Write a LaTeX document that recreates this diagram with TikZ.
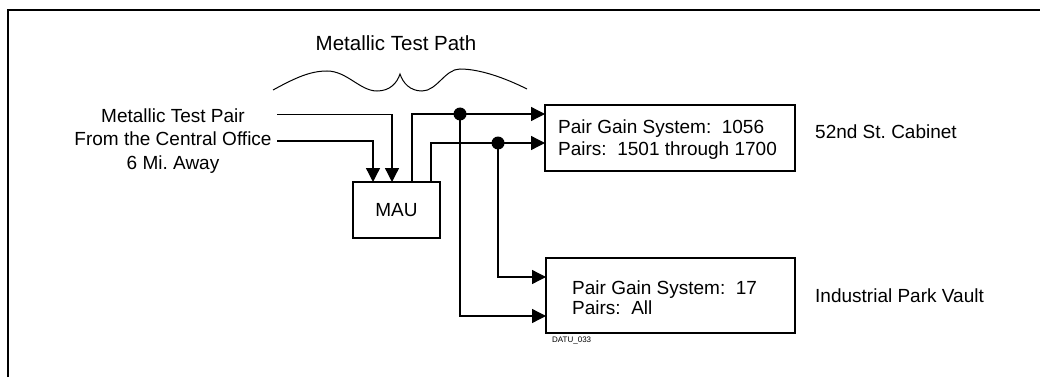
\documentclass[tikz,border=0pt]{standalone}
\usepackage{fontspec}
\setmainfont{Liberation Sans}
\usetikzlibrary{arrows.meta}
\frenchspacing
\tikzset{
  lbl/.style={inner sep=0pt, font=\fontsize{19}{23}\selectfont},
  boxnode/.style={draw, line width=2pt, inner sep=0pt},
  conn/.style={line width=1.3pt, -{Triangle[length=14pt,width=14pt]}},
  wire/.style={line width=1.3pt},
  dotnode/.style={circle, fill=black, inner sep=0pt, minimum size=13pt},
}
\begin{document}
\begin{tikzpicture}[x=1pt,y=-1pt]
\useasboundingbox (0,0) rectangle (1040,377);
% frame
\draw[line width=2.5pt] (8,377) -- (8,10) -- (1040,10);

% title and brace
\node[lbl, anchor=base, font=\fontsize{20.5}{24}\selectfont] (title) at (396,51) {Metallic Test Path};
\draw[line width=1pt] (273,90) .. controls (295,78) and (310,71) .. (327,71)
  .. controls (347,71) and (360,91) .. (377,91)
  .. controls (390,91) and (397,83) .. (400,74)
  .. controls (403,83) and (410,91) .. (422,91)
  .. controls (437,91) and (445,69) .. (460,69)
  .. controls (480,69) and (505,78) .. (527,89);

% source labels
\node[lbl, anchor=base] (src1) at (173,122) {Metallic Test Pair};
\node[lbl, anchor=base] (src2) at (173,145.5) {From the Central Office};
\node[lbl, anchor=base] (src3) at (173,169) {6 Mi. Away};

% MAU
\node[boxnode, minimum width=87pt, minimum height=56pt, font=\fontsize{19}{23}\selectfont] (mau) at (396.5,210) {MAU};

% boxes
\node[boxnode, minimum width=250pt, minimum height=66pt] (cab) at (670,138) {};
\node[boxnode, minimum width=249pt, minimum height=75pt] (vault) at (670.5,295.5) {};

\node[lbl, anchor=base west] (cabt1) at (558,133) {Pair Gain System:\ \ 1056};
\node[lbl, anchor=base west] (cabt2) at (558,155) {Pairs:\ \ 1501 through 1700};
\node[lbl, anchor=base west] (vat1) at (572,294) {Pair Gain System:\ \ 17};
\node[lbl, anchor=base west] (vat2) at (572,314) {Pairs:\ \ All};

\node[lbl, anchor=base west] (cabname) at (815,138) {52nd St. Cabinet};
\node[lbl, anchor=base west] (vaultname) at (815,302) {Industrial Park Vault};
\node[lbl, anchor=base west, font=\fontsize{8}{10}\selectfont] (id) at (552,342) {DATU\_033};

% connector coordinates
\coordinate (in1) at (277,114.5);
\coordinate (in2) at (277,141);
\coordinate (m1) at (392,182);
\coordinate (m2) at (373,182);
\coordinate (o1) at (412,182);
\coordinate (o2) at (431,182);
\coordinate (c1) at (545,114);
\coordinate (c2) at (545,143);
\coordinate (v1) at (546,277);
\coordinate (v2) at (546,316);

\node[dotnode] (d1) at (460,114) {};
\node[dotnode] (d2) at (498,143) {};

\draw[conn] (in1) -| (m1);
\draw[conn] (in2) -| (m2);
\draw[conn] (o1) |- (c1);
\draw[conn] (o2) |- (c2);
\draw[conn] (d1.center) |- (v2);
\draw[conn] (d2.center) |- (v1);
\end{tikzpicture}
\end{document}
